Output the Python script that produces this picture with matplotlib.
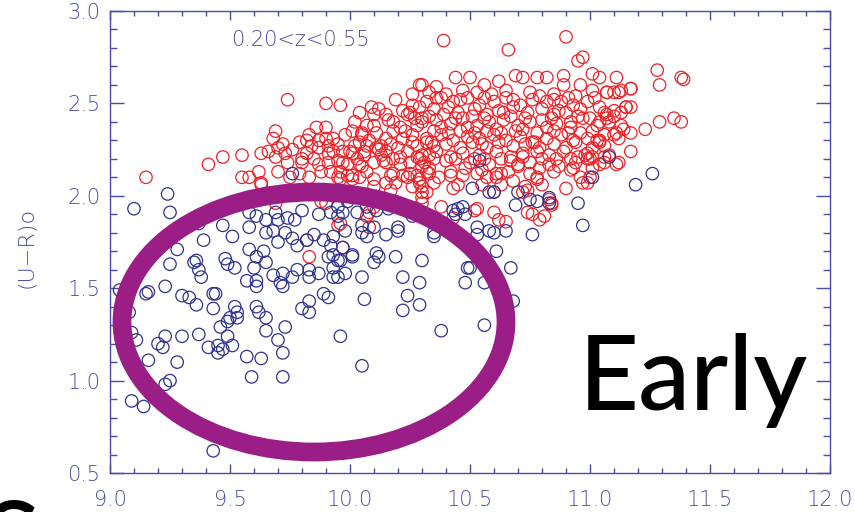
import matplotlib
matplotlib.use("Agg")
import matplotlib.pyplot as plt
from matplotlib.patches import Ellipse
from matplotlib.ticker import MultipleLocator

AXIS_C = "#474ca8"
BLUE_C = "#2e3290"
RED_C = "#ec2227"
RING_C = "#9b1e87"

# late-type (blue) galaxies: stellar mass, rest-frame colour
blue_mass = [
    9.24, 9.10, 9.25, 9.37, 9.39, 9.28, 9.25, 9.23, 9.16, 9.15, 9.30, 9.33, 9.36, 9.43,
    9.44, 9.43, 9.35, 9.36, 9.37, 9.38, 9.47, 9.51, 9.48, 9.49, 9.52, 9.58, 9.61, 9.64,
    9.65, 9.60, 9.61, 9.57, 9.61, 9.52, 9.53, 9.50, 9.61, 9.62, 9.65, 9.58, 9.61, 9.65,
    9.69, 9.70, 9.68, 9.58, 9.65, 9.70, 9.73, 9.74, 9.77, 9.80, 9.76, 9.78, 9.82, 9.85,
    9.68, 9.72, 9.71, 9.72, 9.76, 9.78, 9.83, 9.83, 9.87, 9.89, 9.91, 9.83, 9.80, 9.83,
    9.87, 9.92, 9.95, 9.89, 9.92, 9.93, 9.95, 9.93, 9.08, 9.95, 9.99, 9.97, 10.03, 10.07,
    10.11, 10.16, 9.98, 9.93, 9.97, 10.01, 9.96, 9.93, 9.95, 9.98, 10.05, 10.07, 10.05,
    10.10, 10.15, 10.20, 10.20, 10.11, 10.10, 10.19, 10.30, 10.05, 10.22, 10.29, 10.24,
    10.29, 10.22, 10.06, 10.26, 10.33, 10.35, 10.35, 10.43, 10.45, 10.47, 10.48, 10.44,
    10.51, 10.58, 10.60, 10.53, 10.58, 10.60, 10.65, 10.53, 10.61, 10.67, 10.49, 10.50,
    10.48, 10.56, 10.70, 10.69, 10.75, 10.78, 10.83, 10.83, 10.76, 10.68, 9.09, 9.14,
    9.23, 9.25, 9.16, 9.28, 9.09, 9.11, 9.04, 9.20, 9.22, 9.23, 9.30, 9.37, 9.41, 9.45,
    9.45, 9.47, 9.46, 9.49, 9.49, 9.51, 9.53, 9.43, 9.57, 9.63, 9.59, 9.72, 9.72, 9.70,
    9.73, 9.65, 9.96, 10.05, 10.01, 10.12, 9.91, 10.38, 10.56, 10.54, 11.01, 11.08,
    11.19, 11.26, 10.97, 10.95, 9.76,
]
blue_colour = [
    2.01, 1.93, 1.91, 1.85, 1.76, 1.71, 1.63, 1.51, 1.48, 1.47, 1.46, 1.45, 1.41, 1.47,
    1.47, 1.39, 1.64, 1.65, 1.60, 1.56, 1.84, 1.78, 1.66, 1.63, 1.61, 1.71, 1.67, 1.70,
    1.64, 1.61, 1.54, 1.54, 1.51, 1.40, 1.37, 1.34, 1.40, 1.37, 1.34, 1.91, 1.89, 1.87,
    1.91, 1.87, 1.81, 1.83, 1.80, 1.75, 1.80, 1.88, 1.87, 1.92, 1.77, 1.73, 1.76, 1.79,
    1.57, 1.58, 1.53, 1.51, 1.56, 1.60, 1.60, 1.56, 1.58, 1.47, 1.45, 1.43, 1.39, 1.37,
    1.90, 1.91, 1.89, 1.76, 1.73, 1.68, 1.65, 1.56, 1.37, 1.94, 1.97, 1.91, 1.91, 1.94,
    1.92, 1.93, 1.81, 1.78, 1.72, 1.68, 1.65, 1.61, 1.56, 1.58, 1.80, 1.78, 1.84,
    1.83, 1.79, 1.83, 1.81, 1.69, 1.64, 1.67, 1.65, 1.56, 1.56, 1.53, 1.46,
    1.41, 1.38, 1.44, 1.89, 1.89, 1.80, 1.78, 1.92, 1.93, 1.94, 1.90, 1.90,
    2.04, 2.02, 2.02, 1.83, 1.81, 1.80, 1.81, 1.79, 1.70, 1.61, 1.61, 1.61,
    1.53, 1.53, 2.02, 1.95, 1.98, 1.97, 1.99, 1.96, 1.79, 1.43, 0.89, 0.86,
    0.98, 1.00, 1.11, 1.10, 1.26, 1.22, 1.49, 1.20, 1.18, 1.24, 1.24, 1.25, 1.18, 1.19,
    1.15, 1.17, 1.29, 1.32, 1.24, 1.19, 1.34, 0.62, 1.13, 1.12, 1.02, 1.02, 1.15, 1.22,
    1.29, 1.27, 1.24, 1.08, 1.67, 1.67, 1.67, 1.27, 1.30, 2.19, 2.10, 2.21,
    2.06, 2.12, 1.84, 1.96, 2.12,
]

# early-type (red) galaxies
red_mass = [
    9.15, 9.41, 9.47, 9.55, 9.74, 9.90, 9.96, 10.29, 10.19, 10.09, 10.04, 10.39, 10.66,
    10.90, 10.95, 10.97, 10.89, 11.01, 11.04, 11.11, 11.17, 11.23, 11.17, 11.12, 11.28,
    11.29, 11.38, 11.39, 11.29, 11.35, 11.38, 11.17,
    9.55, 9.58, 9.62, 9.63, 9.66, 9.69, 9.70, 9.68, 9.69, 9.73, 9.79, 9.82, 9.83, 9.87,
    9.86, 9.90, 9.90, 9.93, 9.82, 9.85, 9.87, 9.91, 9.93, 9.95, 9.96, 9.92, 9.88, 9.83,
    10.01, 10.05, 10.04, 10.08, 10.07, 10.10, 10.10, 10.00, 10.03, 10.04, 9.99, 10.01,
    10.07, 10.10, 10.13, 10.13, 10.15, 10.18, 10.21, 10.24, 10.26, 10.29, 10.30, 10.28,
    10.26, 10.22, 10.18, 10.15, 10.15, 10.20, 10.24, 10.28, 10.32, 10.15, 10.21, 10.25,
    10.29, 10.33, 10.17, 10.22, 10.28, 10.32, 10.26,
    9.63, 9.70, 9.75, 9.79, 9.80, 9.87, 9.97, 10.01, 10.05, 9.96, 10.01, 10.11, 10.25,
    10.14, 10.21, 10.28, 10.18, 10.25, 10.30, 10.10, 10.17, 10.26, 10.32, 10.30,
    9.69, 9.58, 9.88, 9.90, 9.97, 9.95, 9.82, 9.83, 10.08, 10.08, 10.10, 9.96, 10.07,
    9.63, 9.95, 9.99, 10.04, 10.10, 10.15, 10.19, 10.24, 10.29, 10.30, 10.30, 10.33,
    10.42, 10.43, 10.53, 10.57, 10.61, 10.63, 10.60, 10.53, 10.43, 10.38, 10.60, 10.65,
    10.72, 10.74, 10.74, 10.76, 10.79, 10.81, 10.84, 10.80, 10.78,
    10.30, 10.36, 10.44, 10.50, 10.56, 10.62, 10.69, 10.72, 10.78, 10.82, 10.89, 10.96,
    11.01, 11.07, 11.12, 11.17,
    10.32, 10.38, 10.43, 10.49, 10.54, 10.60, 10.65, 10.71, 10.76, 10.82, 10.88, 10.93,
    10.99, 11.04, 11.10, 11.15,
    10.30, 10.36, 10.42, 10.47, 10.53, 10.58, 10.64, 10.70, 10.75, 10.80, 10.86, 10.92,
    10.97, 11.03, 11.08, 11.13,
    10.32, 10.38, 10.43, 10.49, 10.54, 10.60, 10.65, 10.71, 10.76, 10.82, 10.88, 10.93,
    10.99, 11.04, 11.10, 11.14,
    10.30, 10.36, 10.42, 10.47, 10.54, 10.61, 10.67, 10.72, 10.78, 10.83, 10.89, 10.95,
    11.00, 11.06,
    10.33, 10.42, 10.47, 10.61, 10.70, 10.79, 10.85, 10.78, 10.93, 10.96, 11.01, 11.11,
    10.39, 10.45, 10.57, 10.64, 10.74, 10.85, 10.90, 11.07,
    10.38, 10.49, 10.61, 10.72, 10.82, 10.92, 11.01,
    10.35, 10.46, 10.57, 10.68, 10.79, 10.90, 11.01,
    10.52, 10.62, 10.84, 10.83, 10.90, 10.97, 10.99, 11.00, 10.92, 10.99, 11.01, 11.06,
    10.63, 10.70, 10.29, 10.30,
    11.07, 11.10, 11.13, 11.15, 11.17, 11.13, 11.10, 11.07, 11.04, 11.11, 11.12, 11.03,
    11.04, 10.99,
    10.33, 10.40, 10.47, 10.53, 10.59, 10.65, 10.75, 10.85, 10.94, 11.02,
    10.31, 10.40, 10.50, 10.58, 10.67, 10.75, 10.83, 10.94, 11.04,
    10.35, 10.45, 10.55, 10.68, 10.73,
    10.02, 10.12, 10.22, 10.35, 10.41, 10.52, 10.62, 10.68, 10.80, 10.87, 10.96, 11.06,
    10.05, 10.16, 10.27, 10.33, 10.44, 10.51, 10.56, 10.67, 10.73, 10.84, 10.95, 11.00,
    10.11, 10.23, 10.35, 10.41, 10.46, 10.52, 10.57, 10.63, 10.69, 10.78, 10.85, 10.91,
    10.96, 11.06,
    10.07, 10.17, 10.26, 10.34, 10.40, 10.51, 10.55, 10.62, 10.73, 10.77, 10.85, 10.94,
    11.06,
    10.06, 10.12, 10.18, 10.35, 10.44, 10.52, 10.56, 10.63, 10.72, 10.80, 10.86, 10.92,
    10.98, 11.08,
    10.36, 10.46, 10.56, 10.68, 10.79, 10.85, 10.91,
    9.72, 9.76, 9.84, 9.91, 9.95, 9.98, 9.80, 9.74, 9.91, 9.97, 10.02, 10.06,
    10.37, 10.48, 10.55, 10.66, 10.75, 10.87,
]
red_colour = [
    2.10, 2.17, 2.21, 2.22, 2.52, 2.50, 2.49, 2.60, 2.52, 2.48, 2.45, 2.84, 2.79,
    2.86, 2.73, 2.75, 2.65, 2.66, 2.64, 2.64, 2.58, 2.36, 2.24, 2.18, 2.68,
    2.60, 2.64, 2.63, 2.40, 2.42, 2.40, 2.34,
    2.10, 2.10, 2.13, 2.23, 2.24, 2.21, 2.26, 2.31, 2.35, 2.23, 2.29, 2.30, 2.33, 2.30,
    2.37, 2.37, 2.31, 2.31, 2.23, 2.20, 2.17, 2.23, 2.24, 2.19, 2.13, 2.13, 2.13, 2.10,
    2.35, 2.34, 2.29, 2.30, 2.38, 2.38, 2.44, 2.24, 2.20, 2.17, 2.17, 2.11,
    2.13, 2.18, 2.22, 2.27, 2.44, 2.40, 2.37, 2.44, 2.49, 2.48, 2.42, 2.38,
    2.33, 2.31, 2.35, 2.31, 2.24, 2.26, 2.24, 2.27, 2.29, 2.18, 2.17, 2.18,
    2.20, 2.22, 2.11, 2.11, 2.11, 2.13, 2.55,
    2.07, 2.13, 2.10, 2.12, 2.18, 2.26, 2.18, 2.23, 2.16, 2.09, 2.09, 2.26, 2.45,
    2.19, 2.21, 2.21, 2.12, 2.12, 2.16, 2.05, 2.03, 2.05, 2.02, 1.96,
    1.96, 1.98, 1.97, 1.96, 1.72, 1.84, 1.76, 1.67, 1.83, 1.91, 1.94, 1.85, 1.89,
    2.06, 2.10, 2.11, 2.10, 2.09, 2.07, 2.07, 2.10, 2.09, 2.05, 1.99, 2.12,
    2.11, 2.04, 2.12, 2.10, 2.10, 2.06, 2.02, 1.93, 1.88, 1.94, 1.91, 1.86,
    2.02, 2.03, 1.91, 1.90, 1.87, 1.89, 1.95, 2.06, 2.09,
    2.60, 2.59, 2.64, 2.64, 2.60, 2.62, 2.65, 2.64, 2.64, 2.64, 2.60, 2.60,
    2.57, 2.56, 2.56, 2.58,
    2.51, 2.53, 2.51, 2.53, 2.49, 2.51, 2.53, 2.49, 2.52, 2.51, 2.51, 2.49,
    2.51, 2.48, 2.46, 2.48,
    2.40, 2.41, 2.39, 2.42, 2.38, 2.40, 2.41, 2.38, 2.40, 2.41, 2.39, 2.40,
    2.42, 2.38, 2.40, 2.38,
    2.31, 2.33, 2.30, 2.32, 2.31, 2.33, 2.30, 2.32, 2.29, 2.31, 2.33, 2.30,
    2.31, 2.30, 2.33, 2.36,
    2.22, 2.24, 2.21, 2.23, 2.22, 2.24, 2.21, 2.23, 2.24, 2.22, 2.24, 2.21,
    2.20, 2.21,
    2.15, 2.13, 2.11, 2.12, 2.16, 2.15, 2.13, 2.10, 2.15, 2.10, 2.15, 2.17,
    2.44, 2.45, 2.44, 2.45, 2.45, 2.44, 2.45, 2.44,
    2.37, 2.37, 2.36, 2.36, 2.37, 2.37, 2.35,
    2.27, 2.26, 2.26, 2.27, 2.26, 2.26, 2.26,
    1.92, 1.87, 1.96, 1.98, 2.04, 2.07, 2.07, 2.10, 2.14, 2.20, 2.21, 2.18,
    2.12, 2.17, 2.07, 2.02,
    2.56, 2.56, 2.57, 2.48, 2.48, 2.45, 2.43, 2.42, 2.40, 2.34, 2.31, 2.30,
    2.29, 2.23,
    2.56, 2.55, 2.57, 2.56, 2.55, 2.57, 2.56, 2.55, 2.54, 2.53,
    2.18, 2.19, 2.18, 2.17, 2.19, 2.18, 2.17, 2.18, 2.17,
    2.07, 2.06, 2.06, 2.08, 2.05,
    2.40, 2.47, 2.46, 2.47, 2.48, 2.47, 2.46, 2.48, 2.47, 2.46, 2.47, 2.45,
    2.33, 2.41, 2.42, 2.43, 2.42, 2.43, 2.42, 2.43, 2.42, 2.42, 2.43, 2.42,
    2.34, 2.35, 2.35, 2.34, 2.35, 2.34, 2.35, 2.34, 2.35, 2.34, 2.35, 2.34,
    2.34, 2.33,
    2.27, 2.28, 2.29, 2.29, 2.28, 2.29, 2.28, 2.29, 2.28, 2.29, 2.28, 2.29,
    2.27,
    2.24, 2.25, 2.20, 2.20, 2.20, 2.20, 2.20, 2.20, 2.21, 2.20, 2.20, 2.20,
    2.22, 2.22,
    2.53, 2.52, 2.53, 2.52, 2.54, 2.52, 2.53,
    2.28, 2.25, 2.27, 2.27, 2.28, 2.33, 2.20, 2.18, 2.18, 2.24, 2.27, 2.22,
    2.10, 2.15, 2.14, 2.13, 2.12, 2.16,
]

# outline drawn round the blue cloud
ring_centre = (9.85, 1.317)
ring_width, ring_height = 1.60, 1.407

plt.rcParams["font.family"] = ["DejaVu Sans"]
fig = plt.figure(figsize=(8.55, 5.12), dpi=100)
ax = fig.add_axes([110 / 855, 39 / 512, 720 / 855, 462 / 512])

ax.scatter(red_mass, red_colour, s=80, facecolors="none", edgecolors=RED_C,
           linewidths=0.9, zorder=2)
ax.scatter(blue_mass, blue_colour, s=80, facecolors="none", edgecolors=BLUE_C,
           linewidths=0.9, zorder=3)

ax.add_patch(Ellipse(ring_centre, ring_width, ring_height, fill=False,
                     edgecolor=RING_C, lw=13.5, zorder=4))

ax.set_xlim(9.0, 12.0)
ax.set_ylim(0.5, 3.0)
ax.xaxis.set_major_locator(MultipleLocator(0.5))
ax.xaxis.set_minor_locator(MultipleLocator(0.1))
ax.yaxis.set_major_locator(MultipleLocator(0.5))
ax.yaxis.set_minor_locator(MultipleLocator(0.1))
ax.xaxis.set_major_formatter(lambda v, p: f"{v:.1f}")
ax.yaxis.set_major_formatter(lambda v, p: f"{v:.1f}")

for side in ax.spines.values():
    side.set_color(AXIS_C)
    side.set_linewidth(1.0)
ax.tick_params(which="both", direction="in", top=True, right=True,
               color=AXIS_C, width=1.0, labelcolor=AXIS_C, labelsize=15)
ax.tick_params(axis="x", which="major", length=6.5, pad=12)
ax.tick_params(axis="x", which="minor", length=3.3)
ax.tick_params(axis="y", which="major", length=10, pad=7)
ax.tick_params(axis="y", which="minor", length=5)
for lab in ax.get_xticklabels() + ax.get_yticklabels():
    lab.set_fontweight("light")

ax.text(0.264, 0.937, "0.20<z<0.55", transform=ax.transAxes, ha="center",
        va="center", color=AXIS_C, fontsize=15, fontweight="light")

fig.text(27 / 855, (512 - 247) / 512, "(U\u2212R)o", rotation=90, ha="center",
         va="center", color=AXIS_C, fontsize=16, fontweight="light")

fig.text(579 / 855, (512 - 410) / 512, "Early", ha="left", va="baseline",
         fontsize=75, fontweight="medium", family=["Lato", "DejaVu Sans"],
         color="black")
fig.text(12 / 855, (512 - 576) / 512, "S", ha="center", va="baseline",
         fontsize=75, fontweight="medium", family=["Lato", "DejaVu Sans"],
         color="black")

fig.savefig("out.png", dpi=100)
